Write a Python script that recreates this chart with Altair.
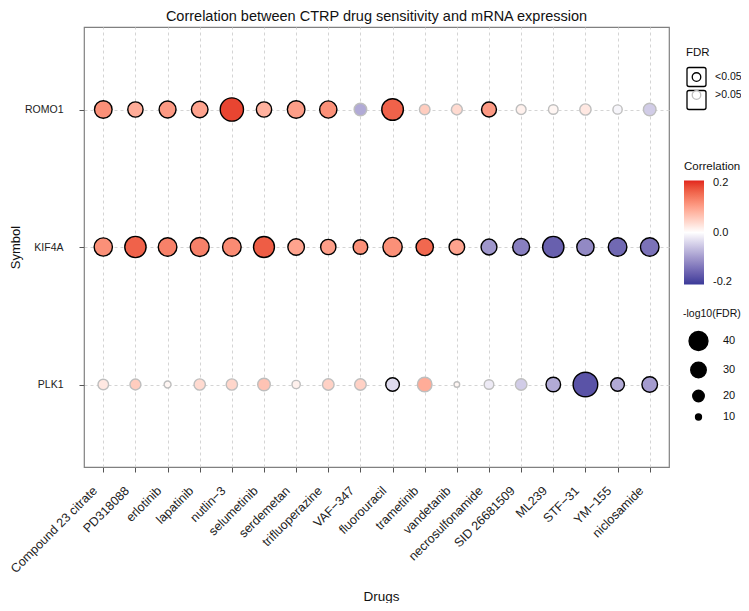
import altair as alt
import pandas as pd

drugs = ["Compound 23 citrate", "PD318088", "erlotinib", "lapatinib", "nutlin\u22123",
         "selumetinib", "serdemetan", "trifluoperazine", "VAF\u2212347", "fluorouracil",
         "trametinib", "vandetanib", "necrosulfonamide", "SID 26681509", "ML239",
         "STF\u221231", "YM\u2212155", "niclosamide"]
genes = ["ROMO1", "KIF4A", "PLK1"]

corr_ROMO1 = [0.12, 0.09, 0.11, 0.10, 0.19, 0.085, 0.105, 0.12, -0.085, 0.165,
              0.055, 0.04, 0.11, 0.015, 0.01, 0.025, -0.01, -0.05]
logfdr_ROMO1 = [36.0, 29.4, 33.9, 33.0, 55.0, 29.4, 36.0, 35.0, 22.5, 49.0,
                18.0, 18.7, 28.3, 16.6, 16.0, 19.5, 15.4, 22.5]
fdr_ROMO1 = ["<0.05", "<0.05", "<0.05", "<0.05", "<0.05", "<0.05", "<0.05", "<0.05", ">0.05",
             "<0.05", ">0.05", ">0.05", "<0.05", ">0.05", ">0.05", ">0.05", ">0.05", ">0.05"]

corr_KIF4A = [0.12, 0.165, 0.135, 0.135, 0.125, 0.17, 0.10, 0.105, 0.12, 0.12,
              0.16, 0.10, -0.105, -0.13, -0.165, -0.12, -0.155, -0.145]
logfdr_KIF4A = [38.1, 48.0, 39.1, 40.0, 39.1, 46.6, 33.0, 29.4, 27.5, 41.3,
                35.1, 30.2, 31.0, 33.9, 48.0, 35.1, 39.1, 39.1]
fdr_KIF4A = ["<0.05"] * 18

corr_PLK1 = [0.025, 0.055, 0.01, 0.04, 0.045, 0.065, 0.015, 0.05, 0.05, -0.035,
             0.09, 0.01, -0.02, -0.05, -0.085, -0.18, -0.085, -0.10]
logfdr_PLK1 = [18.0, 18.7, 11.4, 19.5, 19.5, 22.5, 13.6, 20.2, 20.2, 25.0,
               27.5, 9.6, 16.0, 20.2, 27.5, 60.0, 25.0, 30.2]
fdr_PLK1 = [">0.05", ">0.05", ">0.05", ">0.05", ">0.05", ">0.05", ">0.05", ">0.05", ">0.05",
            "<0.05", ">0.05", ">0.05", ">0.05", ">0.05", "<0.05", "<0.05", "<0.05", "<0.05"]

fdr_levels = ["<0.05", ">0.05"]
box_levels = ["box <0.05", "box >0.05"]
corr_ticks = [-0.2, 0.0, 0.2]
size_ticks = [40, 30, 20, 10]

series = {
    "ROMO1": (corr_ROMO1, logfdr_ROMO1, fdr_ROMO1),
    "KIF4A": (corr_KIF4A, logfdr_KIF4A, fdr_KIF4A),
    "PLK1": (corr_PLK1, logfdr_PLK1, fdr_PLK1),
}
rows = []
for g in genes:
    c, s, f = series[g]
    for i, d in enumerate(drugs):
        rows.append({"Drug": d, "Symbol": g, "Correlation": c[i], "logFDR": s[i],
                     "FDR": f[i], "FDRbox": "box " + f[i]})
df = pd.DataFrame(rows)

FONT = "Liberation Sans"
box_path = ("M-0.78,-1L0.78,-1Q1,-1,1,-0.78L1,0.78Q1,1,0.78,1L-0.78,1"
            "Q-1,1,-1,0.78L-1,-0.78Q-1,-1,-0.78,-1Z")
ring_path = "M-0.45,0A0.45,0.45,0,1,1,0.45,0A0.45,0.45,0,1,1,-0.45,0Z"

x_enc = alt.X("Drug:N", sort=drugs,
              scale=alt.Scale(type="point", padding=0.6),
              axis=alt.Axis(title="Drugs", labelAngle=315, labelAlign="right",
                            labelBaseline="top", labelFontSize=12.5, labelPadding=12,
                            labelOffset={"expr": "-13"},
                            labelColor="#222", tickSize=5, tickColor="#555",
                            tickWidth=1, domain=False, grid=True, gridDash=[3, 3],
                            gridColor="#D4D4D4", gridWidth=1, titleFontSize=13.5,
                            titleFontWeight="normal", titleColor="#111",
                            titleX=297, titleY=129, titleBaseline="middle",
                            titleAlign="center", labelFont=FONT, titleFont=FONT))
y_enc = alt.Y("Symbol:N", sort=genes,
              scale=alt.Scale(type="point", padding=0.6),
              axis=alt.Axis(title="Symbol", labelFontSize=10.5, labelPadding=16,
                            labelColor="#222", tickSize=5, tickColor="#555",
                            tickWidth=1, domain=False, grid=True, gridDash=[3, 3],
                            gridColor="#D4D4D4", gridWidth=1, titleFontSize=13,
                            titleFontWeight="normal", titleColor="#111",
                            titleX=-69, titleY=220, titleAngle=270,
                            titleBaseline="middle", titleAlign="center",
                            labelFont=FONT, titleFont=FONT))

base = alt.Chart(df)

boxes = base.mark_point(opacity=0).encode(
    x=x_enc, y=y_enc,
    shape=alt.Shape("FDRbox:N",
                    scale=alt.Scale(domain=box_levels, range=[box_path, box_path]),
                    legend=alt.Legend(title="FDR", orient="none", legendX=602, legendY=20,
                                      symbolSize=361, symbolStrokeColor="black",
                                      symbolFillColor="transparent", symbolStrokeWidth=1.3,
                                      symbolOpacity=1, labelExpr="''",
                                      titleColor="transparent", rowPadding={"expr": "-7"},
                                      titlePadding=8, labelOffset=8, zindex=1)),
)

bubbles = base.mark_point(filled=True, opacity=1, strokeWidth=1.4, strokeOpacity=1).encode(
    x=x_enc, y=y_enc,
    fill=alt.Fill("Correlation:Q",
                  scale=alt.Scale(domain=[-0.21, 0.0, 0.21],
                                  range=["#3A3A98", "#FFFFFF", "#E1241D"],
                                  interpolate="lab"),
                  legend=alt.Legend(title="Correlation", orient="none", legendX=600,
                                    legendY=134, direction="vertical", gradientLength=104,
                                    gradientThickness=20, gradientStrokeWidth=0,
                                    values=corr_ticks, titlePadding=8, labelOffset=9,
                                    labelBaseline="middle", labelFontSize=11,
                                    labelExpr="datum.value < 0 ? '-' + format(-datum.value, '.1f') : format(datum.value, '.1f')")),
    stroke=alt.Stroke("FDR:N",
                      scale=alt.Scale(domain=fdr_levels, range=["black", "#BEBEBE"]),
                      legend=alt.Legend(title="FDR", orient="none", legendX=602, legendY=20,
                                        symbolType=ring_path, symbolSize=361,
                                        symbolFillColor="white", symbolStrokeWidth=1.3,
                                        rowPadding={"expr": "-7"}, titlePadding=8,
                                        labelOffset=8, labelFontSize=10.5, zindex=2)),
    size=alt.Size("logFDR:Q",
                  scale=alt.Scale(type="pow", exponent=1.2, domain=[10, 40],
                                  range=[35, 357], zero=False, clamp=False),
                  legend=alt.Legend(title="-log10(FDR)", orient="none", legendX=599,
                                    legendY=282, values=size_ticks, titleFontSize=10.5,
                                    symbolFillColor="black", symbolStrokeColor="black",
                                    symbolStrokeWidth=1.4, rowPadding=5, titlePadding=11,
                                    symbolOffset=5, labelOffset=14, labelFontSize=11)),
)

chart = alt.layer(boxes, bubbles).properties(
    width=585, height=440,
    padding={"left": 76, "top": 19, "right": 72, "bottom": 136},
    autosize=alt.AutoSizeParams(type="none"),
    title=alt.Title("Correlation between CTRP drug sensitivity and mRNA expression",
                    fontSize=14.5, fontWeight="normal", anchor="middle", frame="group",
                    offset=3, color="#111", font=FONT),
).configure(font=FONT).configure_view(
    stroke="#808080", strokeWidth=1.2
).configure_legend(
    titleFontWeight="normal", titleFontSize=11.5, labelFontSize=11.5,
    titleColor="#111", labelColor="#111", titleFont=FONT, labelFont=FONT
)

chart.save("out.html", embed_options={"renderer": "svg", "actions": False})
